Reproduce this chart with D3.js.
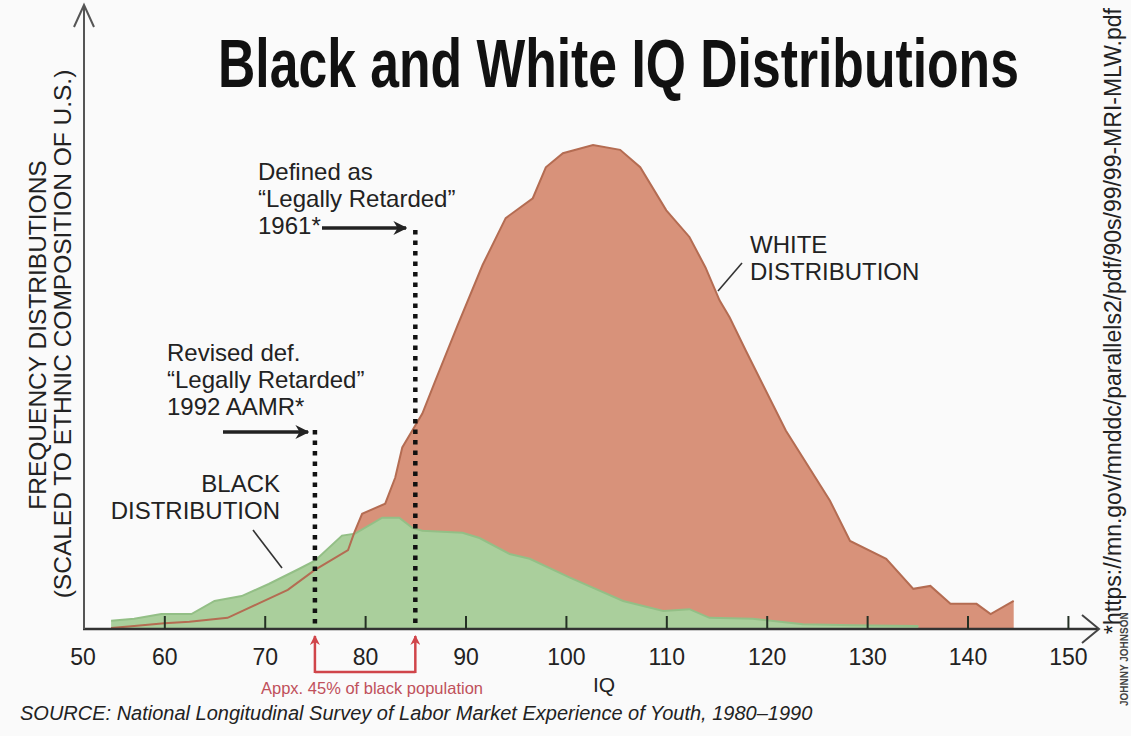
<!DOCTYPE html>
<html>
<head>
<meta charset="utf-8">
<script src="https://cdn.jsdelivr.net/npm/d3@7"></script>
<style>
  html, body { margin: 0; padding: 0; background: #fafafa; }
  svg { display: block; font-family: Arial, "Liberation Sans", sans-serif; }
</style>
</head>
<body>
<div id="chart"></div>
<script>
(function () {

    // white distribution (IQ, relative frequency)
    var whiteIQ = [54.7, 57, 60, 62.5, 66.3, 69.3, 72.3, 75, 78.3, 78.9, 79.7, 82, 83, 83.7, 84.7, 85.7, 87,
        89.2, 91.7, 94, 96.7, 98, 99.7, 102.7, 105.4, 107.4, 110, 112.3, 113.9, 115.3, 116.3, 117.9,
        121.9, 126.3, 128.3, 131.9, 134.6, 136.3, 138.3, 140.9, 142.3, 144.6];
    var whiteFreq = [0.2, 0.6, 1.2, 1.5, 2.3, 5.2, 8.1, 12.2, 16.3, 19.8, 23.8, 25.9, 31.3, 37.5, 41.0, 44.5, 51.3,
        62.7, 75.2, 84.9, 89.0, 95.4, 98.3, 100, 99.0, 95.4, 86.5, 81.0, 74.7, 67.9, 64.4, 57.6,
        41.0, 26.5, 18.2, 14.5, 8.3, 8.9, 5.2, 5.2, 3.1, 5.8];

    // black distribution
    var blackIQ = [54.7, 57, 59.7, 62.7, 65, 67.7, 70.4, 73.4, 75, 77.7, 79, 81.7, 83.4, 84.7, 85.7, 89.7,
        91.4, 94.4, 96.4, 100.4, 105.7, 109.7, 112.3, 114.3, 118.6, 123.6, 128.6, 135.1];
    var blackFreq = [1.7, 2.1, 3.1, 3.1, 5.8, 6.8, 9.3, 12.4, 14.1, 19.3, 19.7, 23.0, 23.0, 20.9, 20.3, 19.9,
        18.8, 15.5, 14.5, 10.6, 5.8, 3.7, 4.1, 2.3, 2.1, 1.0, 0.8, 0.6];

    var tickValues = [60, 70, 80, 90, 100, 110, 120, 130, 140, 150];
    var cutoffs = [75, 85];   // 1992 and 1961 definitions

    var width = 1131, height = 736;

    var x = d3.scaleLinear().domain([52, 152]).range([84, 1088]);
    var y = d3.scaleLinear().domain([0, 100]).range([629, 145]);

    var svg = d3.select("#chart").append("svg")
        .attr("width", width)
        .attr("height", height);

    svg.append("rect").attr("width", width).attr("height", height).attr("fill", "#fafafa");

    var defs = svg.append("defs");
    defs.append("marker").attr("id", "blk").attr("viewBox", "0 0 10 10")
        .attr("refX", 9).attr("refY", 5).attr("markerWidth", 4).attr("markerHeight", 4)
        .attr("markerUnits", "strokeWidth").attr("orient", "auto")
        .append("path").attr("d", "M0,0 L10,5 L0,10 L3,5 Z").attr("fill", "#222");
    defs.append("marker").attr("id", "red").attr("viewBox", "0 0 10 10")
        .attr("refX", 9).attr("refY", 5).attr("markerWidth", 4.5).attr("markerHeight", 4)
        .attr("markerUnits", "strokeWidth").attr("orient", "auto")
        .append("path").attr("d", "M0,0 L10,5 L0,10 L3,5 Z").attr("fill", "#d0454a");

    var white = whiteIQ.map(function (d, i) { return [d, whiteFreq[i]]; });
    var black = blackIQ.map(function (d, i) { return [d, blackFreq[i]]; });

    var area = d3.area()
        .x(function (d) { return x(d[0]); })
        .y0(y(0))
        .y1(function (d) { return y(d[1]); });
    var line = d3.line()
        .x(function (d) { return x(d[0]); })
        .y(function (d) { return y(d[1]); });

    svg.append("path").datum(white).attr("d", area).attr("fill", "#d8927a");
    svg.append("path").datum(black).attr("d", area).attr("fill", "#aacf9c");
    svg.append("path").datum(black).attr("d", line)
        .attr("fill", "none").attr("stroke", "#93bf86").attr("stroke-width", 2);
    svg.append("path").datum(white).attr("d", line)
        .attr("fill", "none").attr("stroke", "#b46c52").attr("stroke-width", 2);

    // dotted cut-off lines
    var dotTop = [430, 230];
    svg.selectAll(".cut").data(cutoffs).enter().append("line")
        .attr("class", "cut")
        .attr("x1", function (d) { return x(d); })
        .attr("x2", function (d) { return x(d); })
        .attr("y1", function (d, i) { return dotTop[i]; })
        .attr("y2", y(0))
        .attr("stroke", "#111").attr("stroke-width", 4.5)
        .attr("stroke-dasharray", "4.5,6");

    // axes
    svg.append("line").attr("x1", x(52) - 1).attr("x2", 1098).attr("y1", y(0)).attr("y2", y(0))
        .attr("stroke", "#333").attr("stroke-width", 2.5);
    svg.append("path").attr("d", "M1082,615 L1099,629 L1082,643")
        .attr("fill", "none").attr("stroke", "#444").attr("stroke-width", 2);
    svg.append("line").attr("x1", x(52)).attr("x2", x(52)).attr("y1", y(0)).attr("y2", 6)
        .attr("stroke", "#555").attr("stroke-width", 2);
    svg.append("path").attr("d", "M" + (x(52) - 10) + ",27 L" + x(52) + ",5 L" + (x(52) + 10) + ",27")
        .attr("fill", "none").attr("stroke", "#555").attr("stroke-width", 2);

    var xAxis = d3.axisBottom(x).tickValues(tickValues).tickSizeInner(-13).tickSizeOuter(0).tickPadding(20);
    var gx = svg.append("g").attr("transform", "translate(0," + y(0) + ")").call(xAxis);
    gx.select(".domain").remove();
    gx.selectAll(".tick line").attr("stroke", "#243024").attr("stroke-width", 2);
    gx.selectAll(".tick text").attr("font-size", 23).attr("fill", "#222")
        .attr("font-family", "Arial, 'Liberation Sans', sans-serif");
    svg.append("text").attr("x", x(52) - 1).attr("y", 665).attr("text-anchor", "middle")
        .attr("font-size", 23).attr("fill", "#222").text("50");

    svg.append("text").attr("x", 604).attr("y", 692).attr("text-anchor", "middle")
        .attr("font-size", 21).attr("fill", "#222").text("IQ");

    // red bracket under the axis
    var rx1 = x(cutoffs[0]), rx2 = x(cutoffs[1]);
    svg.append("path").attr("d", "M" + rx1 + ",672 L" + rx2 + ",672")
        .attr("stroke", "#d0454a").attr("stroke-width", 2.5).attr("fill", "none");
    [rx1, rx2].forEach(function (px) {
        svg.append("line").attr("x1", px).attr("x2", px).attr("y1", 673).attr("y2", 636)
            .attr("stroke", "#d0454a").attr("stroke-width", 2.5).attr("marker-end", "url(#red)");
    });
    svg.append("text").attr("x", 372).attr("y", 694).attr("text-anchor", "middle")
        .attr("font-size", 16.5).attr("fill", "#c0505a").text("Appx. 45% of black population");

    // title: bold sans squeezed horizontally
    svg.append("text").attr("transform", "translate(218,87) scale(0.76,1)")
        .attr("font-family", "Arial, 'Liberation Sans', sans-serif")
        .attr("font-weight", "bold").attr("font-size", 68).attr("fill", "#111")
        .text("Black and White IQ Distributions");

    // annotations
    function lines(xp, ys, txt, anchor) {
        var t = svg.append("text").attr("font-size", 24).attr("fill", "#222")
            .attr("text-anchor", anchor || "start");
        txt.forEach(function (s, i) {
            t.append("tspan").attr("x", xp).attr("y", ys[i]).text(s);
        });
    }
    lines(258, [180, 207, 234], ["Defined as", "\u201CLegally Retarded\u201D", "1961*"]);
    lines(167, [361, 388, 415], ["Revised def.", "\u201CLegally Retarded\u201D", "1992 AAMR*"]);
    lines(280, [492, 519], ["BLACK", "DISTRIBUTION"], "end");
    lines(750, [253, 280], ["WHITE", "DISTRIBUTION"]);

    svg.append("line").attr("x1", 322).attr("x2", 406).attr("y1", 228).attr("y2", 228)
        .attr("stroke", "#222").attr("stroke-width", 3.5).attr("marker-end", "url(#blk)");
    svg.append("line").attr("x1", 223).attr("x2", 308).attr("y1", 432).attr("y2", 432)
        .attr("stroke", "#222").attr("stroke-width", 3.5).attr("marker-end", "url(#blk)");

    svg.append("line").attr("x1", 253).attr("y1", 530).attr("x2", 282).attr("y2", 568)
        .attr("stroke", "#333").attr("stroke-width", 1.6);
    svg.append("line").attr("x1", 742).attr("y1", 263).attr("x2", 718).attr("y2", 291)
        .attr("stroke", "#333").attr("stroke-width", 1.6);

    // y axis title
    svg.append("text").attr("transform", "translate(46,335) rotate(-90)")
        .attr("text-anchor", "middle").attr("font-size", 24.5).attr("fill", "#222")
        .text("FREQUENCY DISTRIBUTIONS");
    svg.append("text").attr("transform", "translate(71,334) rotate(-90)")
        .attr("text-anchor", "middle").attr("font-size", 24.5).attr("fill", "#222")
        .text("(SCALED TO ETHNIC COMPOSITION OF U.S.)");

    // source
    svg.append("text").attr("x", 20).attr("y", 720).attr("font-size", 20)
        .attr("font-style", "italic").attr("fill", "#222")
        .text("SOURCE: National Longitudinal Survey of Labor Market Experience of Youth, 1980\u20131990");

    // right margin
    svg.append("text").attr("transform", "translate(1121,634) rotate(-90)")
        .attr("font-size", 23).attr("fill", "#222")
        .text("*https://mn.gov/mnddc/parallels2/pdf/90s/99/99-MRI-MLW.pdf");
    svg.append("text").attr("transform", "translate(1128,706) rotate(-90)")
        .attr("font-size", 10).attr("font-weight", "bold").attr("fill", "#444")
        .text("JOHNNY JOHNSON");
})();
</script>
</body>
</html>
